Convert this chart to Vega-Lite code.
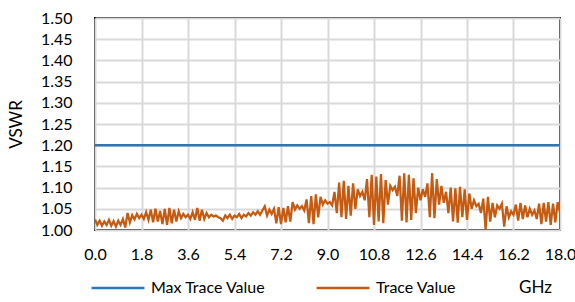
{
  "$schema": "https://vega.github.io/schema/vega-lite/v6.json",
  "autosize": {"type": "none"},
  "padding": {"left": 95, "top": 18, "right": 15, "bottom": 72},
  "width": 465,
  "height": 212,
  "background": "white",
  "config": {
    "font": "Lato",
    "view": {"stroke": "black", "strokeWidth": 2}
  },
  "datasets": {
    "trace": [
      {"f":0.00,"v":1.025},{"f":0.09,"v":1.012},{"f":0.18,"v":1.022},{"f":0.27,"v":1.010},{"f":0.36,"v":1.020},{"f":0.45,"v":1.012},{"f":0.54,"v":1.024},{"f":0.63,"v":1.010},{"f":0.72,"v":1.021},{"f":0.81,"v":1.008},{"f":0.90,"v":1.022},{"f":0.99,"v":1.012},{"f":1.08,"v":1.026},{"f":1.17,"v":1.006},
      {"f":1.26,"v":1.040},{"f":1.35,"v":1.018},{"f":1.44,"v":1.035},{"f":1.53,"v":1.025},{"f":1.62,"v":1.038},{"f":1.71,"v":1.028},{"f":1.80,"v":1.036},{"f":1.89,"v":1.026},{"f":1.98,"v":1.042},{"f":2.07,"v":1.024},{"f":2.16,"v":1.048},{"f":2.25,"v":1.018},{"f":2.34,"v":1.050},{"f":2.43,"v":1.020},
      {"f":2.52,"v":1.045},{"f":2.61,"v":1.014},{"f":2.70,"v":1.050},{"f":2.79,"v":1.012},{"f":2.88,"v":1.052},{"f":2.97,"v":1.016},{"f":3.06,"v":1.048},{"f":3.15,"v":1.020},{"f":3.24,"v":1.044},{"f":3.33,"v":1.028},{"f":3.42,"v":1.038},{"f":3.51,"v":1.030},{"f":3.60,"v":1.036},{"f":3.69,"v":1.026},{"f":3.78,"v":1.042},{"f":3.87,"v":1.024},{"f":3.96,"v":1.052},{"f":4.05,"v":1.022},{"f":4.14,"v":1.048},{"f":4.23,"v":1.026},{"f":4.32,"v":1.040},{"f":4.41,"v":1.030},{"f":4.50,"v":1.036},{"f":4.59,"v":1.032},{"f":4.68,"v":1.034},{"f":4.77,"v":1.030},{"f":4.86,"v":1.028},{"f":4.95,"v":1.022},{"f":5.04,"v":1.034},
      {"f":5.13,"v":1.028},{"f":5.22,"v":1.036},{"f":5.31,"v":1.026},{"f":5.40,"v":1.034},{"f":5.49,"v":1.030},{"f":5.58,"v":1.038},{"f":5.67,"v":1.028},{"f":5.76,"v":1.036},{"f":5.85,"v":1.032},{"f":5.94,"v":1.040},{"f":6.03,"v":1.034},{"f":6.12,"v":1.042},{"f":6.21,"v":1.036},{"f":6.30,"v":1.044},{"f":6.39,"v":1.036},{"f":6.48,"v":1.046},{"f":6.57,"v":1.056},{"f":6.66,"v":1.034},{"f":6.75,"v":1.048},{"f":6.84,"v":1.038},{"f":6.93,"v":1.050},{"f":7.02,"v":1.016},{"f":7.11,"v":1.054},{"f":7.20,"v":1.014},{"f":7.29,"v":1.052},{"f":7.38,"v":1.018},{"f":7.47,"v":1.056},{"f":7.56,"v":1.020},{"f":7.65,"v":1.066},
      {"f":7.74,"v":1.048},{"f":7.83,"v":1.058},{"f":7.92,"v":1.050},{"f":8.01,"v":1.056},{"f":8.10,"v":1.046},{"f":8.19,"v":1.072},{"f":8.28,"v":1.016},{"f":8.37,"v":1.080},{"f":8.46,"v":1.014},{"f":8.55,"v":1.084},{"f":8.64,"v":1.030},{"f":8.73,"v":1.078},{"f":8.82,"v":1.060},{"f":8.91,"v":1.070},{"f":9.00,"v":1.062},{"f":9.09,"v":1.066},{"f":9.18,"v":1.058},{"f":9.27,"v":1.090},{"f":9.36,"v":1.040},{"f":9.45,"v":1.112},{"f":9.54,"v":1.030},{"f":9.63,"v":1.116},{"f":9.72,"v":1.026},{"f":9.81,"v":1.104},{"f":9.90,"v":1.034},{"f":9.99,"v":1.110},{"f":10.08,"v":1.050},{"f":10.17,"v":1.096},{"f":10.26,"v":1.080},
      {"f":10.35,"v":1.090},{"f":10.44,"v":1.070},{"f":10.53,"v":1.120},{"f":10.62,"v":1.030},{"f":10.71,"v":1.130},{"f":10.80,"v":1.012},{"f":10.89,"v":1.126},{"f":10.98,"v":1.020},{"f":11.07,"v":1.132},{"f":11.16,"v":1.016},{"f":11.25,"v":1.118},{"f":11.34,"v":1.060},{"f":11.43,"v":1.104},{"f":11.52,"v":1.094},{"f":11.61,"v":1.102},{"f":11.70,"v":1.080},{"f":11.79,"v":1.128},{"f":11.88,"v":1.022},{"f":11.97,"v":1.134},{"f":12.06,"v":1.018},{"f":12.15,"v":1.130},{"f":12.24,"v":1.024},{"f":12.33,"v":1.122},{"f":12.42,"v":1.040},{"f":12.51,"v":1.100},{"f":12.60,"v":1.070},{"f":12.69,"v":1.096},{"f":12.78,"v":1.078},{"f":12.87,"v":1.110},
      {"f":12.96,"v":1.030},{"f":13.05,"v":1.134},{"f":13.14,"v":1.028},{"f":13.23,"v":1.120},{"f":13.32,"v":1.060},{"f":13.41,"v":1.104},{"f":13.50,"v":1.064},{"f":13.59,"v":1.090},{"f":13.68,"v":1.040},{"f":13.77,"v":1.100},{"f":13.86,"v":1.020},{"f":13.95,"v":1.098},{"f":14.04,"v":1.017},{"f":14.13,"v":1.102},{"f":14.22,"v":1.030},{"f":14.31,"v":1.096},{"f":14.40,"v":1.024},{"f":14.49,"v":1.086},{"f":14.58,"v":1.050},{"f":14.67,"v":1.070},{"f":14.76,"v":1.056},{"f":14.85,"v":1.062},{"f":14.94,"v":1.040},{"f":15.03,"v":1.074},{"f":15.12,"v":1.002},{"f":15.21,"v":1.078},{"f":15.30,"v":1.020},{"f":15.39,"v":1.064},{"f":15.48,"v":1.030},
      {"f":15.57,"v":1.058},{"f":15.66,"v":1.050},{"f":15.75,"v":1.062},{"f":15.84,"v":1.008},{"f":15.93,"v":1.056},{"f":16.02,"v":1.030},{"f":16.11,"v":1.044},{"f":16.20,"v":1.036},{"f":16.29,"v":1.060},{"f":16.38,"v":1.022},{"f":16.47,"v":1.064},{"f":16.56,"v":1.026},{"f":16.65,"v":1.058},{"f":16.74,"v":1.030},{"f":16.83,"v":1.050},{"f":16.92,"v":1.036},{"f":17.01,"v":1.046},{"f":17.10,"v":1.026},{"f":17.19,"v":1.062},{"f":17.28,"v":1.014},{"f":17.37,"v":1.064},{"f":17.46,"v":1.020},{"f":17.55,"v":1.066},{"f":17.64,"v":1.012},{"f":17.73,"v":1.062},{"f":17.82,"v":1.018},{"f":17.91,"v":1.066},{"f":18.00,"v":1.040}
    ],
    "maxv": [
      {"f":0,"v":1.2},{"f":18,"v":1.2}
    ]
  },
  "layer": [
    {
      "data": {"name": "maxv"},
      "transform": [{"calculate": "'Max Trace Value'", "as": "s"}],
      "mark": {"type": "line", "strokeWidth": 2.5, "clip": true},
      "encoding": {
        "x": {
          "field": "f", "type": "quantitative",
          "scale": {"domain": [0, 18], "nice": false, "zero": false},
          "axis": {
            "values": [0, 1.8, 3.6, 5.4, 7.2, 9.0, 10.8, 12.6, 14.4, 16.2, 18.0],
            "tickCount": 20,
            "format": ".1f",
            "title": "GHz",
            "titleFont": "Lato", "titleFontSize": 17, "titleFontWeight": "normal", "titleColor": "#000",
            "titleX": 440, "titleY": 57, "titleBaseline": "middle", "titleAlign": "center",
            "labelFont": "Lato", "labelFontSize": 16, "labelColor": "#000", "labelPadding": 16,
            "labelFlush": false, "labelOverlap": false, "labelBound": false,
            "ticks": false, "domain": false,
            "grid": true, "gridColor": "#d9d9d9", "gridWidth": 2
          }
        },
        "y": {
          "field": "v", "type": "quantitative",
          "scale": {"domain": [1, 1.5], "nice": false, "zero": false},
          "axis": {
            "values": [1.0, 1.05, 1.1, 1.15, 1.2, 1.25, 1.3, 1.35, 1.4, 1.45, 1.5],
            "tickCount": 20,
            "format": ".2f",
            "title": "VSWR",
            "titleFont": "Lato", "titleFontSize": 17, "titleFontWeight": "normal", "titleColor": "#000",
            "titlePadding": 15,
            "labelFont": "Lato", "labelFontSize": 16, "labelColor": "#000", "labelPadding": 23,
            "labelFlush": false, "labelOverlap": false, "labelBound": false,
            "ticks": false, "domain": false,
            "grid": true, "gridColor": "#d9d9d9", "gridWidth": 2
          }
        },
        "color": {
          "field": "s", "type": "nominal",
          "scale": {"domain": ["Max Trace Value", "Trace Value"], "range": ["#2E75B6", "#C55A11"]},
          "legend": {
            "title": null,
            "orient": "none",
            "legendX": -5,
            "legendY": 242,
            "direction": "horizontal",
            "symbolType": "stroke",
            "symbolSize": 2800,
            "symbolStrokeWidth": 2.5,
            "labelFont": "Lato",
            "labelFontSize": 16,
            "labelColor": "#000",
            "labelOffset": 5,
            "columnPadding": 45
          }
        }
      }
    },
    {
      "data": {"name": "trace"},
      "transform": [{"calculate": "'Trace Value'", "as": "s"}],
      "mark": {"type": "line", "strokeWidth": 2.25, "clip": true},
      "encoding": {
        "x": {"field": "f", "type": "quantitative"},
        "y": {"field": "v", "type": "quantitative"},
        "color": {"field": "s", "type": "nominal"}
      }
    }
  ]
}
